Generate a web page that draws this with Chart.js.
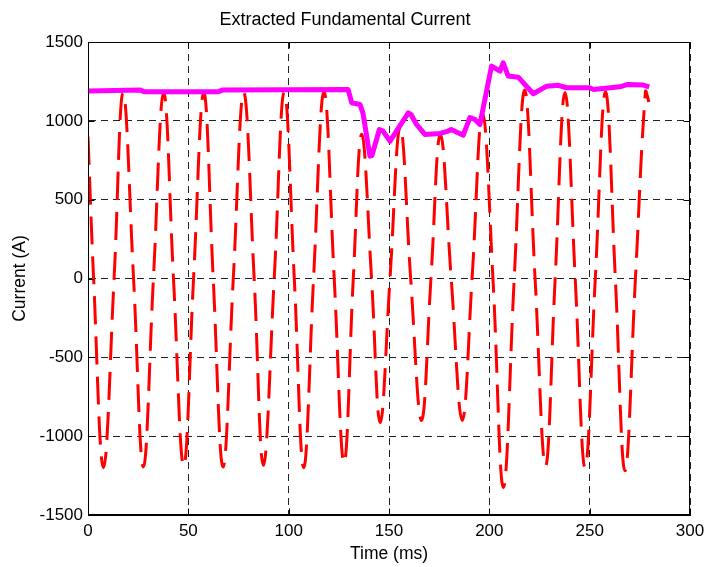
<!DOCTYPE html>
<html>
<head>
<meta charset="utf-8">
<script src="https://cdn.jsdelivr.net/npm/chart.js@4.4.1/dist/chart.umd.min.js"></script>
<style>
  html, body { margin: 0; padding: 0; background: #fff; }
  canvas { display: block; }
</style>
</head>
<body>
<canvas id="chart" width="706" height="567"></canvas>
<script>
// red dashed waveform: peaks, troughs and zero crossings
var waveTime = [0, 2.8, 7.7, 13.0, 17.5, 22.7, 27.6, 32.6, 37.7, 42.6, 47.7, 52.6, 57.7, 62.4,
  67.3, 72.4, 77.6, 82.8, 87.4, 92.8, 97.8, 102.8, 107.5, 112.4, 117.6, 122.7, 127.6, 132.2,
  136.4, 141.3, 145.6, 150.5, 155.6, 160.8, 166.2, 170.9, 175.6, 181.0, 186.5, 191.4, 196.6,
  201.8, 207.0, 212.4, 217.6, 222.8, 228.0, 232.8, 237.7, 242.8, 247.7, 252.8, 257.9, 262.8,
  267.6, 272.8, 277.8, 279.5];
var waveCurrent = [900, 0, -1200, 0, 1180, 0, -1195, 0, 1180, 0, -1190, 0, 1180, 0,
  -1195, 0, 1180, 0, -1185, 0, 1185, 0, -1200, 0, 1185, 0, -1170, 0,
  915, 0, -915, 0, 960, 0, -900, 0, 915, 0, -900, 0, 1050,
  0, -1325, 0, 1195, 0, -1190, 0, 1180, 0, -1200, 0, 1185, 0,
  -1220, 0, 1185, 1120];

// magenta extracted amplitude
var ampTime = [0, 26, 28, 65, 67, 129.6, 131.4, 135.5, 137, 140.5, 141.5, 145.2, 147, 150.5,
  155, 159.6, 161, 163.7, 167.9, 175.4, 179.5, 181, 187, 190.3, 192.8, 195.3, 201.1, 205.3,
  206.9, 209.4, 214.4, 221.9, 228.6, 234.4, 238.5, 250, 252, 265, 269, 276.7, 279.7];
var ampCurrent = [1190, 1195, 1185, 1185, 1195, 1199, 1115, 1104, 1050, 776, 780, 945, 935, 871,
  960, 1051, 1040, 977, 914, 920, 935, 945, 909, 1020, 1009, 977, 1347, 1315,
  1368, 1284, 1277, 1172, 1220, 1225, 1210, 1210, 1199, 1216, 1231, 1227, 1216];

var xTicks = [0, 50, 100, 150, 200, 250, 300];
var yTicks = [-1500, -1000, -500, 0, 500, 1000, 1500];

function pts(xs, ys) {
  return xs.map(function(x, i) { return {x: x, y: ys[i]}; });
}

var fam = "'Liberation Sans', Arial, Helvetica, sans-serif";

var frame = {
  id: 'frame',
  afterDraw: function(chart) {
    var a = chart.chartArea, ctx = chart.ctx;
    var sx = chart.scales.x, sy = chart.scales.y;
    var L = Math.round(a.left) + 0.5, R = Math.round(a.right) - 0.5;
    var T = Math.round(a.top) + 0.5, B = Math.round(a.bottom) - 0.5;
    ctx.save();
    ctx.strokeStyle = '#000';
    ctx.lineWidth = 1;
    ctx.setLineDash([]);
    ctx.beginPath();
    xTicks.forEach(function(v) {
      var px = Math.round(sx.getPixelForValue(v)) + 0.5;
      ctx.moveTo(px, B); ctx.lineTo(px, B - 6);
      ctx.moveTo(px, T); ctx.lineTo(px, T + 6);
    });
    yTicks.forEach(function(v) {
      var py = Math.round(sy.getPixelForValue(v)) + 0.5;
      ctx.moveTo(L, py); ctx.lineTo(L + 6, py);
      ctx.moveTo(R, py); ctx.lineTo(R - 6, py);
    });
    ctx.stroke();
    ctx.strokeRect(L, T, R - L, B - T);
    ctx.restore();
  }
};

var ctx = document.getElementById('chart').getContext('2d');
var chart = new Chart(ctx, {
  type: 'scatter',
  data: {
    datasets: [{
      label: 'Waveform',
      data: pts(waveTime, waveCurrent),
      showLine: true,
      borderColor: '#ff0000',
      borderWidth: 3,
      borderDash: [28, 12],
      tension: 0.4,
      pointRadius: 0,
      order: 2
    }, {
      label: 'Fundamental',
      data: pts(ampTime, ampCurrent),
      showLine: true,
      borderColor: '#ff00ff',
      borderWidth: 5,
      borderJoinStyle: 'round',
      tension: 0,
      pointRadius: 0,
      order: 1
    }]
  },
  options: {
    responsive: false,
    animation: false,
    layout: { padding: { left: 0, right: 16, top: 0, bottom: 0 } },
    plugins: {
      legend: { display: false },
      tooltip: { enabled: false },
      title: {
        display: true,
        text: 'Extracted Fundamental Current',
        color: '#000',
        font: { family: fam, size: 18, weight: 'normal' },
        padding: { top: 9, bottom: 11.4 }
      }
    },
    scales: {
      x: {
        type: 'linear',
        min: 0, max: 300,
        afterFit: function(s) { s.height = 52; s.paddingLeft = 0; s.paddingRight = 0; },
        afterBuildTicks: function(s) { s.ticks = xTicks.map(function(v) { return {value: v}; }); },
        ticks: { color: '#000', padding: 6, maxRotation: 0, font: { family: fam, size: 17 } },
        grid: { color: '#222', lineWidth: 1, drawTicks: false },
        border: { display: true, color: '#000', dash: [7, 5] },
        title: {
          display: true, text: 'Time (ms)', color: '#000',
          font: { family: fam, size: 17.5 }, padding: { top: 0, bottom: 2.5 }
        }
      },
      y: {
        type: 'linear',
        min: -1500, max: 1500,
        afterFit: function(s) { s.width = 88; s.paddingTop = 0; s.paddingBottom = 0; },
        afterBuildTicks: function(s) { s.ticks = yTicks.map(function(v) { return {value: v}; }); },
        ticks: {
          color: '#000', padding: 5, font: { family: fam, size: 17 },
          callback: function(v) { return String(v); }
        },
        grid: { color: '#222', lineWidth: 1, drawTicks: false },
        border: { display: true, color: '#000', dash: [7, 5] },
        title: {
          display: true, text: 'Current (A)', color: '#000',
          font: { family: fam, size: 17.5 }, padding: { top: 9.5, bottom: 0 }
        }
      }
    }
  },
  plugins: [frame]
});
</script>
</body>
</html>
